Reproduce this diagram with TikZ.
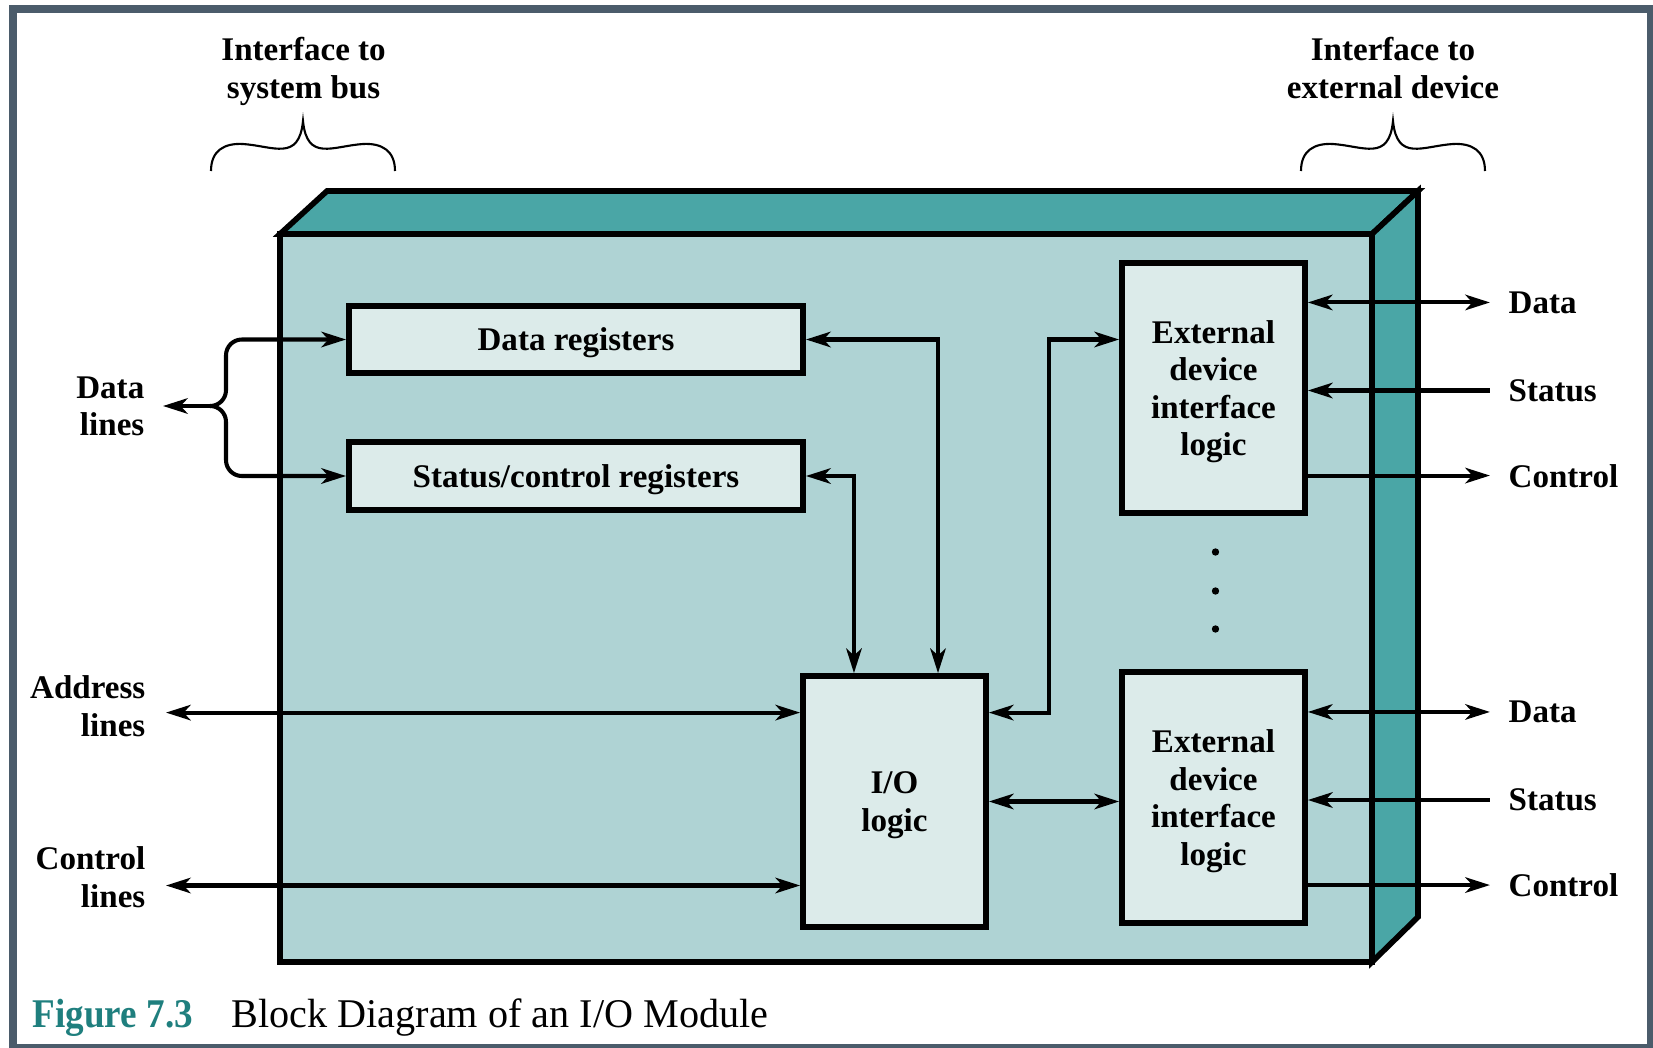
\documentclass[tikz,border=0pt]{standalone}
\usepackage{fontspec}
\setmainfont{Liberation Serif}
\usetikzlibrary{calc, arrows.meta}

\definecolor{framegray}{HTML}{4B5C6B}
\definecolor{tealdark}{HTML}{4AA6A6}
\definecolor{teallight}{HTML}{AFD3D4}
\definecolor{tealpale}{HTML}{DCEBEA}
\definecolor{captionteal}{HTML}{1F7F7E}

\newcommand{\lblfont}{\fontsize{9.4pt}{10.7pt}\selectfont\bfseries}
\newcommand{\capfont}{\fontsize{11.6pt}{13pt}\selectfont}

\tikzset{
    box/.style={draw, line width=1.6pt, fill=tealpale, align=center, inner sep=0pt, text depth=0pt, font=\lblfont},
    lbl/.style={align=center, font=\lblfont, inner sep=0pt, text depth=0pt},
    sidelbl/.style={lbl, inner xsep=0.18cm},
    wire/.style={line width=1.15pt},
    >={Stealth[length=7pt,width=4.4pt,inset=2pt]},
}

\begin{document}
\begin{tikzpicture}[x=0.01cm, y=-0.01cm]
    \useasboundingbox (0,0) rectangle (1653,1048);
    \draw[framegray, line width=2.3pt] (13,9) rectangle (1651,1048);

    \coordinate (P) at (280,234);
    \coordinate (Q) at (1372,234);
    \coordinate (R) at (1372,962);
    \coordinate (T) at (1418,191);
    \coordinate (U) at (1418,917);

    \draw[line width=1.6pt, fill=tealdark] (P) -- (327,191) -- (T) -- (Q) -- cycle;
    \draw[line width=1.6pt, fill=tealdark] (Q) -- (T) -- (U) -- (R) -- cycle;
    \draw[line width=1.6pt, fill=teallight] (P) rectangle (R);

    \node[box, minimum width=4.54cm, minimum height=0.67cm] (datareg) at (576,339.5) {Data registers};
    \node[box, minimum width=4.54cm, minimum height=0.68cm] (statreg) at (576,476) {Status/control registers};
    \node[box, minimum width=1.83cm, minimum height=2.51cm] (iologic) at (894.5,801.5) {I/O\\logic};
    \node[box, minimum width=1.83cm, minimum height=2.50cm] (extA) at (1213.5,388) {External\\device\\interface\\logic};
    \node[box, minimum width=1.83cm, minimum height=2.51cm] (extB) at (1213.5,797.5) {External\\device\\interface\\logic};

    \node[lbl] (sysbus) at (303.6,68) {Interface to\\system bus};
    \node[lbl] (extdev) at (1393,68) {Interface to\\external device};
    \foreach \c in {303,1393} {
        \draw[line width=0.6pt] ({\c-92},171) .. controls ({\c-92},150) and ({\c-78},143) .. ({\c-60},144)
            .. controls ({\c-30},146) and ({\c-4},162) .. (\c,121)
            .. controls ({\c+4},162) and ({\c+30},146) .. ({\c+60},144)
            .. controls ({\c+78},143) and ({\c+92},150) .. ({\c+92},171);
    }

    \node[sidelbl, align=right, anchor=east] (datalines) at (163,406) {Data\\lines};
    \node[sidelbl, align=right, anchor=east] (addrlines) at (164,706) {Address\\lines};
    \node[sidelbl, align=right, anchor=east] (ctrllines) at (164,877) {Control\\lines};
    \coordinate (fork) at ($(datalines.east)+(47,0)$);
    \coordinate (addr) at (166,712.6);
    \coordinate (ctrl) at (166,885.5);

    \draw[->, wire] (fork) -- (datalines.east);
    \draw[->, wire, rounded corners=4.5pt] (fork) -- ++(16,0) |- (datareg.west);
    \draw[->, wire, rounded corners=4.5pt] (fork) -- ++(16,0) |- (statreg.west);

    \draw[<->, wire] (addr) -- (addr -| iologic.west);
    \draw[<->, wire] (ctrl) -- (ctrl -| iologic.west);
    \draw[<->, wire] (datareg.east) -| ([xshift=0.435cm]iologic.north);
    \draw[<->, wire] (statreg.east) -| ([xshift=-0.405cm]iologic.north);
    \draw[<->, wire] (extA.west |- datareg.east) -| ($(extA.west |- addr)+(-70,0)$)
        -- (iologic.east |- addr);
    \draw[<->, wire] (iologic.east) -- (iologic.east -| extB.west);

    \foreach \b in {A,B} {
        \node[sidelbl, anchor=west] (data\b) at ([xshift=1.82cm, yshift=0.855cm]ext\b.east) {Data};
        \node[sidelbl, anchor=west] (status\b) at ([xshift=1.82cm, yshift=-0.025cm]ext\b.east) {Status};
        \node[sidelbl, anchor=west] (control\b) at ([xshift=1.82cm, yshift=-0.875cm]ext\b.east) {Control};
        \draw[<->, wire] (ext\b.east |- data\b) -- (data\b.west);
        \draw[<-, wire] (ext\b.east |- status\b) -- (status\b.west);
        \draw[->, wire] (ext\b.east |- control\b) -- (control\b.west);
    }

    \foreach \y in {552,591,629}
        \fill (1215.5,\y) circle (1.05pt);

    \node[anchor=west, inner sep=0pt, text depth=0pt, font=\capfont] (caption) at (32,1013)
        {\textcolor{captionteal}{\scalebox{0.91}[1]{\bfseries Figure 7.3}}\hspace{11pt}\scalebox{0.985}[1]{Block Diagram of an I/O Module}};
\end{tikzpicture}
\end{document}
